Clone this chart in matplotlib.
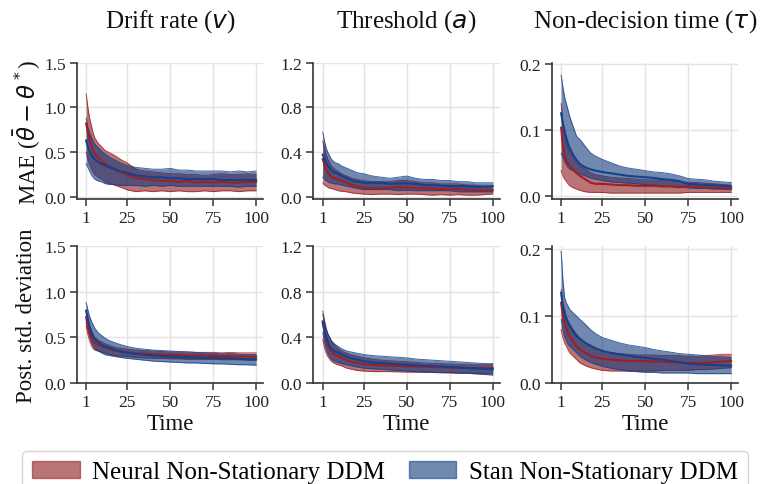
import matplotlib
matplotlib.use("Agg")
import matplotlib.pyplot as plt
from matplotlib.patches import Patch

plt.rcParams['font.family'] = ['Liberation Serif', 'DejaVu Serif']
plt.rcParams['mathtext.fontset'] = 'dejavusans'

# ---------------- data ----------------
time = [1, 2, 3, 4, 5, 6, 8, 10, 12, 15, 18, 21, 25, 30, 35, 40, 45, 50, 55, 60, 65, 70, 75, 80, 85, 90, 95, 100]

titles = ["Drift rate ($v$)", "Threshold ($a$)", "Non-decision time ($\\tau$)"]
row_labels = ["MAE ($\\bar{\\theta} - \\theta^*$)", "Post. std. deviation"]
series_names = ["Neural Non-Stationary DDM", "Stan Non-Stationary DDM"]

# Row 1: MAE
drift_mae_neural_med = [0.82, 0.72, 0.64, 0.58, 0.52, 0.48, 0.44, 0.40, 0.37, 0.33, 0.30, 0.28, 0.25, 0.21, 0.20, 0.19, 0.18, 0.18, 0.17, 0.18, 0.16, 0.17, 0.16, 0.17, 0.16, 0.16, 0.17, 0.17]
drift_mae_neural_hi = [1.15, 1.00, 0.88, 0.80, 0.72, 0.66, 0.60, 0.56, 0.52, 0.49, 0.46, 0.42, 0.38, 0.31, 0.29, 0.28, 0.27, 0.26, 0.26, 0.25, 0.25, 0.24, 0.25, 0.26, 0.25, 0.25, 0.26, 0.25]
drift_mae_neural_lo = [0.50, 0.42, 0.36, 0.32, 0.28, 0.25, 0.22, 0.20, 0.17, 0.15, 0.13, 0.11, 0.08, 0.06, 0.07, 0.06, 0.07, 0.06, 0.07, 0.06, 0.06, 0.07, 0.06, 0.07, 0.07, 0.06, 0.07, 0.07]
drift_mae_stan_med = [0.63, 0.56, 0.51, 0.47, 0.44, 0.42, 0.39, 0.37, 0.35, 0.33, 0.31, 0.29, 0.27, 0.24, 0.23, 0.22, 0.22, 0.21, 0.21, 0.20, 0.20, 0.20, 0.20, 0.19, 0.19, 0.19, 0.19, 0.19]
drift_mae_stan_hi = [0.88, 0.78, 0.72, 0.67, 0.63, 0.59, 0.55, 0.51, 0.48, 0.44, 0.41, 0.38, 0.35, 0.33, 0.32, 0.31, 0.31, 0.32, 0.30, 0.30, 0.29, 0.29, 0.29, 0.29, 0.28, 0.29, 0.28, 0.29]
drift_mae_stan_lo = [0.37, 0.33, 0.29, 0.25, 0.22, 0.20, 0.18, 0.17, 0.15, 0.14, 0.14, 0.13, 0.13, 0.13, 0.12, 0.13, 0.12, 0.13, 0.12, 0.12, 0.12, 0.12, 0.12, 0.12, 0.12, 0.11, 0.12, 0.12]

thr_mae_neural_med = [0.34, 0.29, 0.25, 0.22, 0.20, 0.18, 0.17, 0.16, 0.15, 0.13, 0.11, 0.10, 0.085, 0.08, 0.08, 0.085, 0.09, 0.09, 0.085, 0.08, 0.08, 0.075, 0.07, 0.075, 0.07, 0.065, 0.06, 0.065]
thr_mae_neural_hi = [0.50, 0.44, 0.38, 0.34, 0.31, 0.28, 0.25, 0.23, 0.21, 0.19, 0.17, 0.16, 0.15, 0.14, 0.14, 0.14, 0.15, 0.15, 0.14, 0.13, 0.13, 0.12, 0.12, 0.12, 0.11, 0.11, 0.10, 0.10]
thr_mae_neural_lo = [0.13, 0.11, 0.10, 0.09, 0.08, 0.08, 0.07, 0.06, 0.055, 0.05, 0.04, 0.035, 0.03, 0.025, 0.03, 0.03, 0.025, 0.03, 0.03, 0.025, 0.02, 0.025, 0.02, 0.025, 0.02, 0.02, 0.025, 0.03]
thr_mae_stan_med = [0.38, 0.34, 0.31, 0.28, 0.26, 0.24, 0.22, 0.21, 0.19, 0.17, 0.15, 0.14, 0.13, 0.13, 0.13, 0.12, 0.125, 0.125, 0.12, 0.11, 0.11, 0.105, 0.10, 0.10, 0.10, 0.095, 0.095, 0.10]
thr_mae_stan_hi = [0.58, 0.50, 0.44, 0.40, 0.37, 0.34, 0.31, 0.30, 0.28, 0.26, 0.24, 0.22, 0.21, 0.19, 0.18, 0.17, 0.18, 0.19, 0.17, 0.16, 0.16, 0.15, 0.15, 0.14, 0.14, 0.13, 0.13, 0.13]
thr_mae_stan_lo = [0.18, 0.16, 0.15, 0.14, 0.13, 0.13, 0.12, 0.12, 0.11, 0.10, 0.09, 0.08, 0.07, 0.07, 0.07, 0.07, 0.06, 0.065, 0.06, 0.06, 0.06, 0.06, 0.06, 0.05, 0.05, 0.05, 0.05, 0.05]

ndt_mae_neural_med = [0.103, 0.075, 0.06, 0.053, 0.048, 0.045, 0.04, 0.034, 0.03, 0.025, 0.02, 0.018, 0.018, 0.017, 0.016, 0.016, 0.015, 0.015, 0.015, 0.014, 0.014, 0.013, 0.014, 0.013, 0.012, 0.012, 0.011, 0.011]
ndt_mae_neural_hi = [0.14, 0.11, 0.09, 0.08, 0.072, 0.066, 0.058, 0.05, 0.045, 0.04, 0.035, 0.032, 0.03, 0.028, 0.027, 0.026, 0.025, 0.024, 0.024, 0.023, 0.022, 0.021, 0.02, 0.02, 0.019, 0.018, 0.017, 0.016]
ndt_mae_neural_lo = [0.038, 0.03, 0.025, 0.022, 0.018, 0.015, 0.012, 0.01, 0.008, 0.006, 0.005, 0.005, 0.005, 0.004, 0.004, 0.004, 0.004, 0.004, 0.004, 0.004, 0.004, 0.004, 0.005, 0.005, 0.005, 0.005, 0.005, 0.005]
ndt_mae_stan_med = [0.125, 0.11, 0.098, 0.088, 0.079, 0.072, 0.062, 0.054, 0.048, 0.043, 0.04, 0.038, 0.036, 0.034, 0.032, 0.03, 0.029, 0.028, 0.027, 0.025, 0.024, 0.022, 0.018, 0.017, 0.016, 0.016, 0.015, 0.014]
ndt_mae_stan_hi = [0.183, 0.165, 0.15, 0.14, 0.13, 0.12, 0.105, 0.09, 0.085, 0.075, 0.065, 0.06, 0.055, 0.05, 0.045, 0.042, 0.04, 0.038, 0.036, 0.035, 0.033, 0.03, 0.026, 0.025, 0.024, 0.022, 0.021, 0.02]
ndt_mae_stan_lo = [0.064, 0.058, 0.052, 0.047, 0.043, 0.04, 0.038, 0.036, 0.033, 0.03, 0.027, 0.025, 0.023, 0.021, 0.02, 0.019, 0.018, 0.017, 0.016, 0.015, 0.014, 0.013, 0.012, 0.011, 0.011, 0.01, 0.01, 0.009]

# Row 2: posterior std
drift_sd_neural_med = [0.72, 0.62, 0.55, 0.50, 0.46, 0.44, 0.42, 0.41, 0.39, 0.37, 0.355, 0.345, 0.335, 0.325, 0.32, 0.315, 0.31, 0.31, 0.305, 0.30, 0.30, 0.30, 0.295, 0.295, 0.295, 0.29, 0.29, 0.29]
drift_sd_neural_hi = [0.80, 0.70, 0.63, 0.58, 0.54, 0.50, 0.47, 0.45, 0.43, 0.41, 0.39, 0.38, 0.37, 0.36, 0.355, 0.35, 0.345, 0.34, 0.34, 0.34, 0.335, 0.335, 0.335, 0.33, 0.335, 0.33, 0.33, 0.33]
drift_sd_neural_lo = [0.62, 0.53, 0.46, 0.41, 0.38, 0.36, 0.35, 0.34, 0.33, 0.31, 0.30, 0.295, 0.29, 0.28, 0.275, 0.27, 0.27, 0.265, 0.265, 0.26, 0.26, 0.26, 0.26, 0.255, 0.255, 0.255, 0.25, 0.25]
drift_sd_stan_med = [0.79, 0.70, 0.62, 0.56, 0.51, 0.48, 0.45, 0.42, 0.40, 0.38, 0.36, 0.345, 0.33, 0.32, 0.31, 0.30, 0.295, 0.29, 0.285, 0.28, 0.28, 0.275, 0.275, 0.27, 0.27, 0.265, 0.26, 0.26]
drift_sd_stan_hi = [0.88, 0.80, 0.73, 0.68, 0.64, 0.60, 0.55, 0.52, 0.49, 0.46, 0.44, 0.42, 0.40, 0.38, 0.37, 0.36, 0.355, 0.35, 0.345, 0.34, 0.335, 0.33, 0.325, 0.32, 0.32, 0.315, 0.31, 0.31]
drift_sd_stan_lo = [0.66, 0.58, 0.51, 0.45, 0.41, 0.38, 0.35, 0.33, 0.31, 0.30, 0.29, 0.28, 0.27, 0.26, 0.25, 0.24, 0.235, 0.23, 0.225, 0.22, 0.22, 0.215, 0.21, 0.21, 0.205, 0.20, 0.20, 0.195]

thr_sd_neural_med = [0.54, 0.45, 0.38, 0.33, 0.30, 0.28, 0.25, 0.235, 0.22, 0.20, 0.185, 0.175, 0.165, 0.16, 0.155, 0.152, 0.15, 0.147, 0.145, 0.142, 0.14, 0.138, 0.135, 0.135, 0.133, 0.13, 0.13, 0.13]
thr_sd_neural_hi = [0.63, 0.55, 0.48, 0.43, 0.40, 0.37, 0.33, 0.30, 0.28, 0.26, 0.245, 0.235, 0.22, 0.21, 0.20, 0.195, 0.19, 0.185, 0.18, 0.175, 0.17, 0.17, 0.165, 0.165, 0.16, 0.16, 0.16, 0.16]
thr_sd_neural_lo = [0.38, 0.31, 0.26, 0.23, 0.21, 0.19, 0.17, 0.16, 0.15, 0.13, 0.12, 0.11, 0.105, 0.10, 0.10, 0.10, 0.098, 0.096, 0.095, 0.094, 0.092, 0.09, 0.09, 0.088, 0.087, 0.086, 0.085, 0.085]
thr_sd_stan_med = [0.53, 0.46, 0.40, 0.36, 0.32, 0.30, 0.28, 0.265, 0.25, 0.23, 0.215, 0.205, 0.19, 0.18, 0.175, 0.17, 0.165, 0.16, 0.155, 0.15, 0.148, 0.145, 0.14, 0.135, 0.13, 0.128, 0.125, 0.12]
thr_sd_stan_hi = [0.60, 0.53, 0.47, 0.43, 0.40, 0.37, 0.34, 0.32, 0.30, 0.28, 0.27, 0.26, 0.25, 0.24, 0.235, 0.23, 0.225, 0.22, 0.21, 0.205, 0.20, 0.195, 0.19, 0.185, 0.18, 0.175, 0.17, 0.17]
thr_sd_stan_lo = [0.44, 0.36, 0.30, 0.26, 0.23, 0.21, 0.19, 0.18, 0.17, 0.16, 0.15, 0.14, 0.13, 0.125, 0.12, 0.115, 0.11, 0.105, 0.10, 0.098, 0.095, 0.092, 0.09, 0.087, 0.085, 0.08, 0.075, 0.07]

ndt_sd_neural_med = [0.12, 0.10, 0.09, 0.082, 0.075, 0.07, 0.062, 0.055, 0.05, 0.045, 0.041, 0.038, 0.036, 0.035, 0.034, 0.033, 0.033, 0.033, 0.032, 0.032, 0.031, 0.031, 0.03, 0.03, 0.03, 0.031, 0.032, 0.033]
ndt_sd_neural_hi = [0.14, 0.12, 0.11, 0.10, 0.093, 0.088, 0.08, 0.073, 0.067, 0.06, 0.055, 0.05, 0.047, 0.045, 0.044, 0.043, 0.042, 0.042, 0.042, 0.041, 0.041, 0.041, 0.04, 0.04, 0.041, 0.042, 0.043, 0.043]
ndt_sd_neural_lo = [0.08, 0.068, 0.06, 0.055, 0.05, 0.045, 0.04, 0.035, 0.03, 0.026, 0.023, 0.021, 0.019, 0.018, 0.018, 0.018, 0.018, 0.018, 0.018, 0.019, 0.019, 0.019, 0.019, 0.02, 0.02, 0.021, 0.022, 0.023]
ndt_sd_stan_med = [0.135, 0.115, 0.103, 0.095, 0.09, 0.085, 0.077, 0.07, 0.066, 0.06, 0.056, 0.052, 0.048, 0.045, 0.043, 0.041, 0.039, 0.038, 0.036, 0.035, 0.033, 0.031, 0.029, 0.028, 0.027, 0.027, 0.026, 0.026]
ndt_sd_stan_hi = [0.197, 0.155, 0.128, 0.12, 0.115, 0.11, 0.105, 0.10, 0.095, 0.088, 0.08, 0.074, 0.068, 0.064, 0.06, 0.057, 0.055, 0.053, 0.05, 0.048, 0.046, 0.044, 0.043, 0.042, 0.041, 0.04, 0.039, 0.038]
ndt_sd_stan_lo = [0.095, 0.08, 0.07, 0.063, 0.058, 0.055, 0.05, 0.045, 0.04, 0.035, 0.031, 0.028, 0.025, 0.022, 0.02, 0.018, 0.017, 0.016, 0.016, 0.015, 0.015, 0.015, 0.015, 0.014, 0.014, 0.014, 0.014, 0.014]

x_ticks = [1, 25, 50, 75, 100]
y_ticks = [[0.0, 0.5, 1.0, 1.5], [0.0, 0.4, 0.8, 1.2], [0.0, 0.1, 0.2]]

panels = [
    [(drift_mae_neural_med, drift_mae_neural_lo, drift_mae_neural_hi, drift_mae_stan_med, drift_mae_stan_lo, drift_mae_stan_hi),
     (thr_mae_neural_med, thr_mae_neural_lo, thr_mae_neural_hi, thr_mae_stan_med, thr_mae_stan_lo, thr_mae_stan_hi),
     (ndt_mae_neural_med, ndt_mae_neural_lo, ndt_mae_neural_hi, ndt_mae_stan_med, ndt_mae_stan_lo, ndt_mae_stan_hi)],
    [(drift_sd_neural_med, drift_sd_neural_lo, drift_sd_neural_hi, drift_sd_stan_med, drift_sd_stan_lo, drift_sd_stan_hi),
     (thr_sd_neural_med, thr_sd_neural_lo, thr_sd_neural_hi, thr_sd_stan_med, thr_sd_stan_lo, thr_sd_stan_hi),
     (ndt_sd_neural_med, ndt_sd_neural_lo, ndt_sd_neural_hi, ndt_sd_stan_med, ndt_sd_stan_lo, ndt_sd_stan_hi)],
]

# ---------------- style ----------------
red = "#8B1A1A"
blue = "#133A7C"
red_line = "#A11E22"
blue_line = "#14418C"
fill_alpha = 0.6
spine_col = "#333333"
grid_col = "#E3E3E3"

W, H = 769, 485
fig = plt.figure(figsize=(W / 100, H / 100), dpi=100)

lefts = [76.7, 313.3, 551.7]
ax_w = 186.6
rows_y = [(63.5, 200.0), (247.0, 384.0)]
ylims = [[(-0.022, 1.5), (-0.014, 1.2), (-0.005, 0.202)],
         [(0.0, 1.5), (0.0, 1.2), (0.0, 0.205)]]

for r in range(2):
    top, bot = rows_y[r]
    for c in range(3):
        ax = fig.add_axes([lefts[c] / W, 1 - bot / H, ax_w / W, (bot - top) / H])
        nm, nl, nh, sm, sl, sh = panels[r][c]
        ax.fill_between(time, nl, nh, color=red, alpha=fill_alpha, lw=0, zorder=2)
        ax.plot(time, nl, color=red_line, lw=0.7, alpha=0.8, zorder=2.1)
        ax.plot(time, nh, color=red_line, lw=0.7, alpha=0.8, zorder=2.1)
        ax.fill_between(time, sl, sh, color=blue, alpha=fill_alpha, lw=0, zorder=3)
        ax.plot(time, sl, color=blue_line, lw=0.7, alpha=0.8, zorder=3.1)
        ax.plot(time, sh, color=blue_line, lw=0.7, alpha=0.8, zorder=3.1)
        ax.plot(time, nm, color=red_line, lw=1.5, zorder=4)
        ax.plot(time, sm, color=blue_line, lw=1.5, zorder=5)

        ax.set_xlim(-4.5, 104.2)
        ax.set_ylim(*ylims[r][c])
        ax.set_xticks(x_ticks)
        ax.set_yticks(y_ticks[c])
        ax.set_yticklabels([f"{v:.1f}" for v in y_ticks[c]])
        ax.grid(True, color=grid_col, lw=1.0, zorder=0)
        ax.set_axisbelow(True)
        for s in ["top", "right"]:
            ax.spines[s].set_visible(False)
        for s in ["left", "bottom"]:
            ax.spines[s].set_color(spine_col)
            ax.spines[s].set_linewidth(1.2)
        ax.tick_params(axis="both", direction="out", length=5, width=1.1,
                       color=spine_col, labelcolor="#222222", labelsize=12.5, pad=3)

        cx = (lefts[c] + ax_w / 2) / W
        if r == 0:
            fig.text(cx, 1 - 22 / H, titles[c], ha="center", va="center", fontsize=18, color="#111111")
        else:
            fig.text(cx, 1 - 425 / H, "Time", ha="center", va="center", fontsize=16.5, color="#111111")

for r in range(2):
    top, bot = rows_y[r]
    fig.text(27 / W, 1 - (top + bot) / 2 / H, row_labels[r], rotation=90,
             ha="center", va="center", fontsize=16.5, color="#111111")

handles = [Patch(facecolor=red, alpha=fill_alpha, edgecolor=red_line, lw=1.0),
           Patch(facecolor=blue, alpha=fill_alpha, edgecolor=blue_line, lw=1.0)]
leg = fig.legend(handles, series_names, loc="upper left",
                 bbox_to_anchor=(22 / W, 0.0, 726 / W, 1 - 452 / H), mode="expand",
                 ncol=2, fontsize=18, frameon=True, fancybox=True,
                 handlelength=1.9, handleheight=0.65, handletextpad=0.5,
                 borderpad=0.4, borderaxespad=0)
leg.get_frame().set_edgecolor("#CCCCCC")
leg.get_frame().set_linewidth(1.0)

fig.savefig("out.png", dpi=100)
